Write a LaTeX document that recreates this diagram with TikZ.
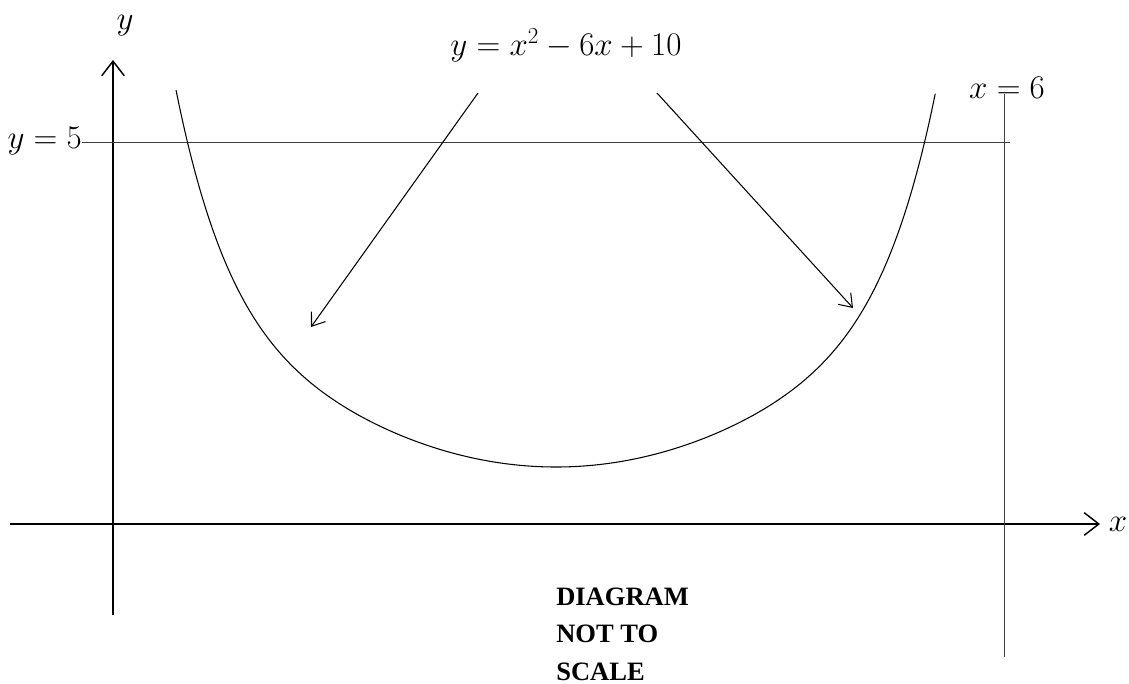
\documentclass[tikz,border=0pt]{standalone}
\usepackage{fontspec}
\setmainfont{Liberation Serif}
\usetikzlibrary{arrows.meta}
\begin{document}
\begin{tikzpicture}[x=0.0265cm,y=-0.0265cm,
  axis/.style={line width=1.1pt},
  guide/.style={line width=0.6pt, black!75},
  curve/.style={line width=0.8pt},
  callout/.style={line width=0.8pt,-{Straight Barb[length=9pt,width=13pt]}},
  axtip/.style={-{Straight Barb[length=11pt,width=17pt]}},
  mlabel/.style={inner sep=0pt,font=\fontsize{23}{27}\selectfont},
  note/.style={inner sep=0pt,align=left,font=\fontsize{20}{28}\selectfont\bfseries}]
\useasboundingbox (0,0) rectangle (1129,684);
% axes
\coordinate (ybot) at (113,615);
\coordinate (ytop) at (113,60);
\coordinate (xleft) at (10,524);
\coordinate (xright) at (1100,524);
\draw[axis,axtip] (ybot) -- (ytop);
\draw[axis,axtip] (xleft) -- (xright);
\node[mlabel] (ylab) at (125,26) {$y$};
\node[mlabel] (xlab) at (1118,524) {$x$};
% guide lines
\coordinate (y5l) at (82,142);
\coordinate (y5r) at (1010,142);
\draw[guide] (y5l) -- (y5r);
\node[mlabel,anchor=east] (y5lab) at (82,141) {$y=5$};
\coordinate (x6t) at (1004,94);
\coordinate (x6b) at (1004,657);
\draw[guide] (x6t) -- (x6b);
\node[mlabel] (x6lab) at (1007,88) {$x=6$};
% curve
\draw[curve] plot[domain=-1:1,samples=200,smooth]
  ({556+380*\x},{467-377*(0.5*\x*\x+0.5*(\x*\x)^4)});
% equation label and callouts
\node[mlabel] (eq) at (566,45) {$y=x^2-6x+10$};
\coordinate (la) at (478,93);
\coordinate (lb) at (311,327);
\coordinate (ra) at (657,93);
\coordinate (rb) at (853,308);
\draw[callout] (la) -- (lb);
\draw[callout] (ra) -- (rb);
% note
\node[note,anchor=north west] (nt) at (556,588) {DIAGRAM\\NOT TO\\SCALE};
\end{tikzpicture}
\end{document}
